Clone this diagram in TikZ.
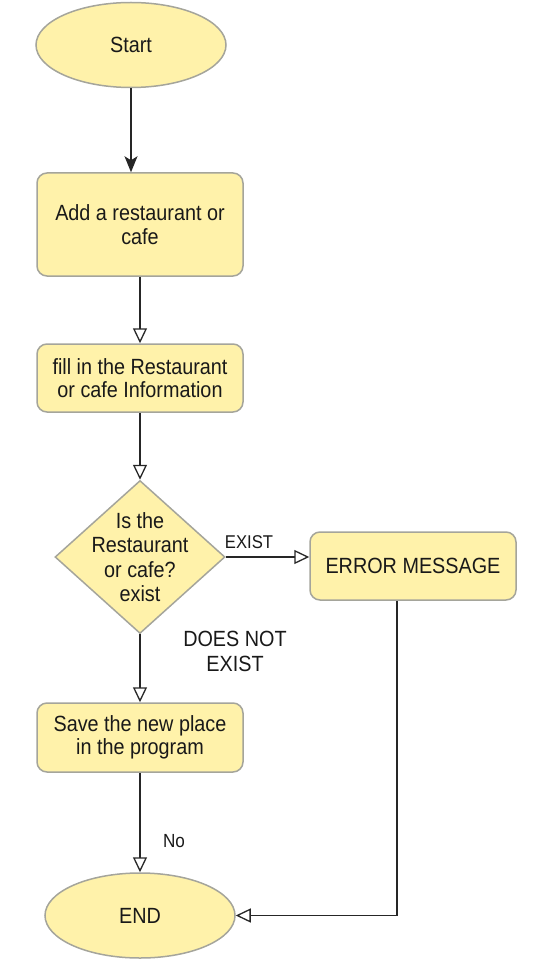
\documentclass[tikz,border=0pt]{standalone}
\usepackage{fontspec}
\setmainfont{Liberation Sans}[FakeStretch=0.9]
\usetikzlibrary{shapes.geometric,arrows.meta}
\definecolor{fillY}{RGB}{255,242,170}
\definecolor{edgeG}{RGB}{165,165,155}
\definecolor{txt}{RGB}{25,25,25}
\begin{document}
\begin{tikzpicture}[x=1pt,y=-1pt,
  base/.style={draw=edgeG, line width=1.5pt, fill=fillY, align=center, inner sep=0pt,
    text=txt, font=\fontsize{22}{23.5}\selectfont},
  term/.style={base, ellipse, minimum width=190pt, minimum height=85pt},
  proc/.style={base, rounded corners=10pt, minimum width=206pt},
  dec/.style={base, diamond, minimum width=170pt, minimum height=153pt},
  lbl/.style={align=center, inner sep=0pt, text=txt},
  conn/.style={line width=1.3pt, draw=black!85},
  openarr/.style={conn, -{Triangle[open, length=15pt, width=14pt]}},
  fillarr/.style={conn, -{Stealth[length=16pt, width=13pt, inset=4pt]}}
]
\useasboundingbox (0,0) rectangle (540,960);

\node[term] (start) at (131,45) {Start};
\node[proc, minimum height=103pt] (add) at (140,224.5) {Add a restaurant or\\cafe};
\node[proc, minimum height=68pt] (fill) at (140,378) {fill in the Restaurant\\or cafe Information};
\node[dec] (dec) at (140,557) {};
\node[lbl, font=\fontsize{22}{24.5}\selectfont] (dectext) at (140,557) {Is the\\Restaurant\\or cafe?\\exist};
\node[proc, minimum width=206pt, minimum height=68pt] (err) at (413,566) {ERROR MESSAGE};
\node[proc, minimum height=69pt] (save) at (140,737.5) {Save the new place\\in the program};
\node[term] (end) at (140,915.5) {END};

\coordinate (errout) at ([xshift=-16pt]err.south);

\draw[fillarr] (start.south) -- (start.south |- add.north);
\draw[openarr] (add.south) -- (fill.north);
\draw[openarr] (fill.south) -- (dec.north);
\draw[openarr] (dec.east) -- (dec.east -| err.west);
\draw[openarr] (dec.south) -- (save.north);
\draw[openarr] (save.south) -- (end.north);
\draw[openarr] (errout) |- (end.east);

\node[lbl, font=\fontsize{18.5}{20}\selectfont] (lexist) at (249,542) {EXIST};
\node[lbl, font=\fontsize{22}{25}\selectfont] (lnot) at (235,651) {DOES NOT\\EXIST};
\node[lbl, font=\fontsize{19}{20}\selectfont] (lno) at (174,841) {No};
\end{tikzpicture}
\end{document}
